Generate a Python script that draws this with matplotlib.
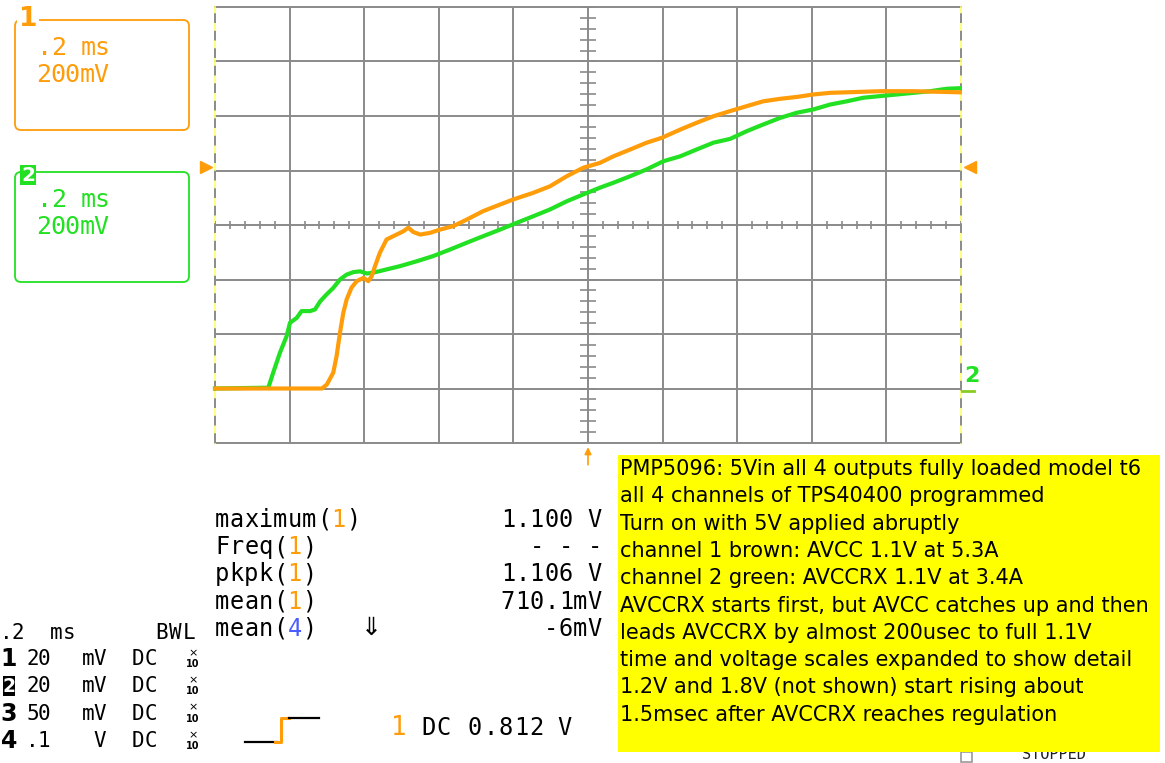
import numpy as np
import matplotlib.pyplot as plt
from matplotlib.patches import FancyBboxPatch, Rectangle
from matplotlib.transforms import blended_transform_factory

W, H = 1165, 763

# channel 1 (AVCC) power-up, time in ms relative to trigger, volts
t1 = [-1.000, -0.713, -0.700, -0.683, -0.674, -0.665, -0.656, -0.647, -0.634, -0.620,
      -0.602, -0.589, -0.580, -0.571, -0.558, -0.540, -0.522, -0.495, -0.482, -0.468,
      -0.450, -0.424, -0.397, -0.361, -0.325, -0.281, -0.236, -0.200, -0.147, -0.102,
      -0.057, -0.013, 0.032, 0.068, 0.113, 0.157, 0.198, 0.247, 0.291, 0.336,
      0.381, 0.425, 0.470, 0.515, 0.560, 0.604, 0.649, 0.694, 0.783, 0.872, 0.997]
v1 = [0.000, 0.000, 0.015, 0.058, 0.119, 0.204, 0.278, 0.327, 0.370, 0.394,
      0.406, 0.394, 0.412, 0.449, 0.498, 0.547, 0.559, 0.577, 0.590, 0.574,
      0.565, 0.571, 0.583, 0.596, 0.620, 0.651, 0.675, 0.694, 0.718, 0.742,
      0.779, 0.810, 0.828, 0.852, 0.877, 0.902, 0.920, 0.950, 0.975, 0.999,
      1.018, 1.036, 1.054, 1.063, 1.070, 1.079, 1.085, 1.087, 1.091, 1.091, 1.087]

# channel 2 (AVCCRX) power-up
t2 = [-1.000, -0.857, -0.844, -0.826, -0.808, -0.799, -0.781, -0.768, -0.745, -0.732,
      -0.718, -0.701, -0.683, -0.665, -0.647, -0.629, -0.611, -0.593, -0.576, -0.540,
      -0.504, -0.459, -0.415, -0.370, -0.325, -0.281, -0.236, -0.191, -0.147, -0.102,
      -0.057, -0.013, 0.032, 0.068, 0.113, 0.157, 0.202, 0.247, 0.291, 0.336,
      0.381, 0.425, 0.470, 0.515, 0.560, 0.604, 0.649, 0.694, 0.738, 0.783,
      0.828, 0.872, 0.917, 0.962, 0.997]
v2 = [0.000, 0.003, 0.058, 0.131, 0.192, 0.241, 0.259, 0.284, 0.284, 0.290,
      0.320, 0.345, 0.369, 0.400, 0.418, 0.427, 0.430, 0.422, 0.425, 0.437,
      0.449, 0.467, 0.486, 0.510, 0.535, 0.559, 0.583, 0.608, 0.632, 0.657,
      0.687, 0.712, 0.737, 0.755, 0.779, 0.804, 0.834, 0.852, 0.877, 0.902,
      0.916, 0.944, 0.969, 0.993, 1.012, 1.024, 1.042, 1.054, 1.067, 1.073,
      1.079, 1.085, 1.091, 1.100, 1.102]

trig_level = 0.812

meas_names = ['maximum', 'Freq', 'pkpk', 'mean', 'mean']
meas_src = ['1', '1', '1', '1', '4']
meas_values = ['1.100 V', '- - -', '1.106 V', '710.1mV', '-6mV']

chan_ids = ['1', '2', '3', '4']
chan_scales = ['20', '20', '50', '.1']
chan_units = ['mV', 'mV', 'mV', 'V']

note_lines = [
    'PMP5096: 5Vin all 4 outputs fully loaded model t6',
    'all 4 channels of TPS40400 programmed',
    'Turn on with 5V applied abruptly',
    'channel 1 brown: AVCC 1.1V at 5.3A',
    'channel 2 green: AVCCRX 1.1V at 3.4A',
    'AVCCRX starts first, but AVCC catches up and then',
    'leads AVCCRX by almost 200usec to full 1.1V',
    'time and voltage scales expanded to show detail',
    '1.2V and 1.8V (not shown) start rising about',
    '1.5msec after AVCCRX reaches regulation',
]

ORANGE = '#ff9c0a'
GREEN = '#22e022'
BLUE = '#4a5cff'
GRID = '#8a8a8a'
MONO = 'DejaVu Sans Mono'

fig = plt.figure(figsize=(W / 100, H / 100), dpi=100)

# scope graticule: 10 x 8 divisions
ax = fig.add_axes([215 / W, 1 - 443 / H, 746 / W, 436 / H])
ax.set_xlim(-1, 1)
ax.set_ylim(-0.2, 1.4)
ax.axis('off')

for k in range(1, 10):
    ax.axvline(-1 + k * 0.2, color=GRID, lw=1.4, zorder=1)
for k in range(9):
    ax.axhline(-0.2 + k * 0.2, color=GRID, lw=1.4, zorder=1, clip_on=False)
for xe in (-1, 1):
    ax.axvline(xe, color='#ffff66', lw=1.2, zorder=1, clip_on=False)
    ax.axvline(xe, color=GRID, lw=1.4, zorder=1.1, clip_on=False,
               dashes=(5, 4))

# minor ticks on the centre cross
minor_t = np.arange(-1, 1.0001, 0.04)
minor_v = np.arange(-0.2, 1.4001, 0.04)
ax.vlines(minor_t, 0.6 - 0.015, 0.6 + 0.015, color=GRID, lw=1.2, zorder=1)
ax.hlines(minor_v, -0.022, 0.022, color=GRID, lw=1.2, zorder=1)

ax.plot(t2, v2, color=GREEN, lw=3, zorder=3, clip_on=False)
ax.plot(t1, v1, color=ORANGE, lw=3, zorder=4, clip_on=False)

# trigger level and position markers
edge_tr = blended_transform_factory(ax.transAxes, ax.transData)
ax.plot([-0.012], [trig_level], marker='>', ms=9, color=ORANGE, transform=edge_tr,
        clip_on=False, zorder=5)
ax.plot([1.012], [trig_level], marker='<', ms=9, color=ORANGE, transform=edge_tr,
        clip_on=False, zorder=5)
ax.text(1.004, 0.01, '2', transform=edge_tr, color=GREEN, fontsize=16, fontweight='bold',
        family='DejaVu Sans', ha='left', va='bottom', clip_on=False)
ax.plot([1.002, 1.018], [-0.01, -0.01], color='#88cc22', lw=2, transform=edge_tr,
        clip_on=False)
ax.annotate('', xy=(0, -0.205), xytext=(0, -0.29), xycoords='data',
            arrowprops=dict(arrowstyle='-|>', color=ORANGE, lw=1.2,
                            mutation_scale=10), annotation_clip=False)

# overlay in pixel coordinates for the readouts
ov = fig.add_axes([0, 0, 1, 1])
ov.set_xlim(0, W)
ov.set_ylim(H, 0)
ov.axis('off')


def mono(x, y, s, color='black', size=17, adv=14.5, colors=None, weight='normal'):
    for i, ch in enumerate(s):
        if ch == ' ':
            continue
        c = colors[i] if colors else color
        ov.text(x + (i + 0.5) * adv, y, ch, color=c, fontsize=size, family=MONO,
                ha='center', va='center', fontweight=weight)


# channel boxes
for y0, col in ((20, ORANGE), (172, GREEN)):
    ov.add_patch(FancyBboxPatch((15, y0), 174, 110, boxstyle='round,pad=0,rounding_size=6',
                                fc='none', ec=col, lw=1.3))
    mono(37, y0 + 28, '.2 ms', color=col, size=18)
    mono(36, y0 + 55, '200mV', color=col, size=18)
ov.text(28, 19, '1', color=ORANGE, fontsize=19, fontweight='bold', family='DejaVu Sans',
        ha='center', va='center',
        bbox=dict(boxstyle='square,pad=0.05', fc='white', ec='none'))
ov.add_patch(Rectangle((20, 165), 16, 20, fc=GREEN, ec='none'))
ov.text(28, 175.5, '2', color='white', fontsize=14.5, fontweight='bold', family='DejaVu Sans',
        ha='center', va='center')

# measurement readouts
for i, (name, src, val) in enumerate(zip(meas_names, meas_src, meas_values)):
    y = 520 + i * 27.2
    s = name + '(' + src + ')'
    cols = ['black'] * len(s)
    cols[len(name) + 1] = BLUE if src == '4' else ORANGE
    mono(215, y, s, colors=cols)
    mono(602 - len(val) * 14.5, y, val)
ov.text(371, 628, '\u21d3', fontsize=18, ha='center', va='center', color='black')

# timebase and channel settings
mono(0, 633, '.2', size=15, adv=12)
mono(50, 633, 'ms', size=15, adv=13)
mono(155, 633, 'BWL', size=15, adv=13.5)
for i, (cid, sc, un) in enumerate(zip(chan_ids, chan_scales, chan_units)):
    y = 659 + i * 27.3
    if cid == '2':
        ov.add_patch(Rectangle((3, y - 10), 12, 20, fc='black', ec='none'))
        ov.text(9, y + 0.5, cid, color='white', fontsize=13.5, fontweight='bold',
                family='DejaVu Sans', ha='center', va='center')
    else:
        ov.text(9, y, cid, color='black', fontsize=17, fontweight='bold',
                family='DejaVu Sans', ha='center', va='center')
    mono(27 if len(sc) == 2 else 30, y, sc, size=15, adv=11.5)
    mono(82, y, un.rjust(2), size=15, adv=11.5)
    mono(132, y, 'DC', size=15, adv=12.5)
    ov.text(193, y - 6, '\u00d7', fontsize=8, ha='center', va='center')
    ov.text(193, y + 5, '10', fontsize=7, fontweight='bold', ha='center', va='center')

# trigger slope icon and level
ov.plot([245, 277], [742, 742], color='black', lw=1.6)
ov.plot([275, 281, 281, 289], [742, 742, 718, 718], color=ORANGE, lw=2.2)
ov.plot([289, 319], [718, 718], color='black', lw=1.6)
mono(391, 728, '1', color=ORANGE, size=18.5)
mono(421, 728, 'DC', size=17, adv=15)
mono(467, 728, '{:.3f}'.format(trig_level), size=17, adv=15.5)
mono(557, 728, 'V', size=17, adv=15)

# run state, tucked under the note
ov.add_patch(Rectangle((961, 752), 11, 10, fc='none', ec='#999999', lw=1.2))
ov.text(1022, 762, 'STOPPED', fontsize=11, family=MONO, ha='left', va='bottom',
        color='#222222')

# note
note_box = Rectangle((618, 455), 542, 297, fc='#ffff00', ec='none', zorder=5)
ov.add_patch(note_box)
for i, line in enumerate(note_lines):
    t = ov.text(620, 469 + i * 27.3, line, fontsize=15, family='DejaVu Sans',
                ha='left', va='center', color='black', zorder=6)
    t.set_clip_path(note_box)

fig.savefig('out.png', dpi=100)
